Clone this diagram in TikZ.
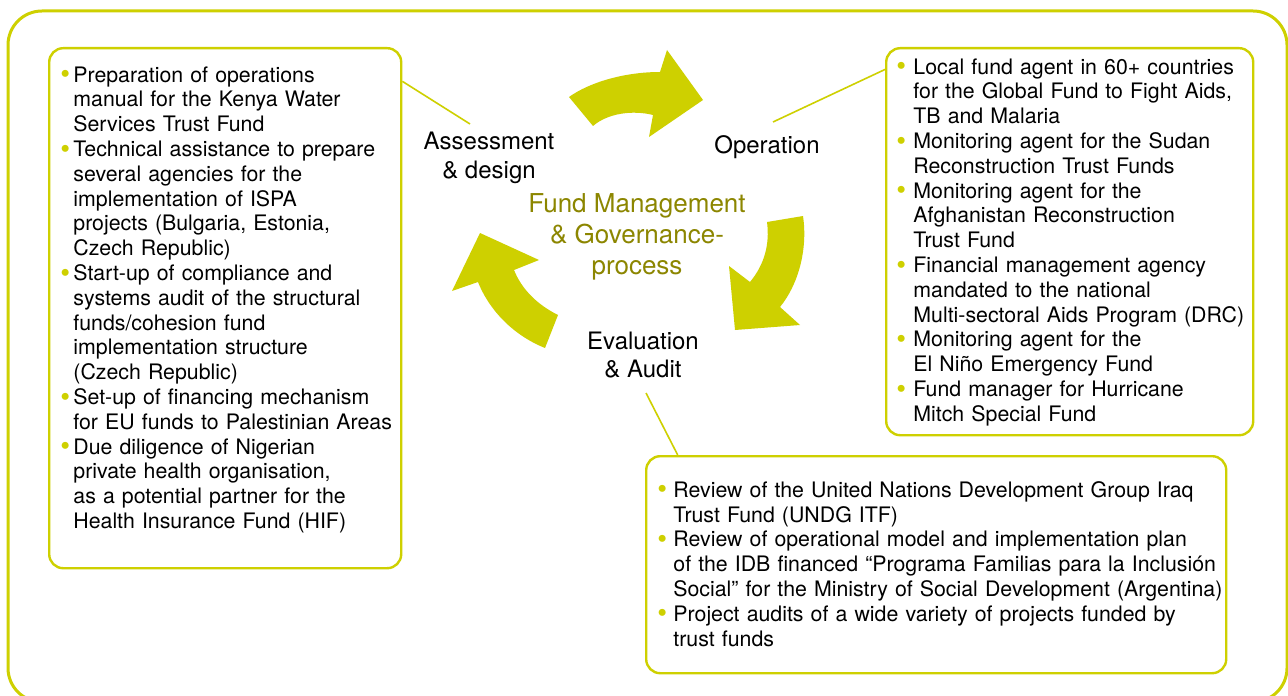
\documentclass[tikz,border=0pt]{standalone}
\usepackage{fontspec}
\setmainfont{TeX Gyre Heros}
\definecolor{fmyellow}{RGB}{206,208,0}
\definecolor{fmolive}{RGB}{140,134,0}
\newlength{\fmind}
\newcommand{\fmbullet}{\textcolor{fmyellow}{\raisebox{-0.8pt}{\fontsize{14}{14}\selectfont\textbullet}}}
\newcommand{\fmitem}[1]{\par\hangindent=\fmind\hangafter=1\noindent\strut
    \makebox[\fmind][l]{\fmbullet}{\let\\\newline #1}\par}
\tikzset{
  fmpx/.style={x=0.5pt,y=-0.5pt},
  fmframe/.style={draw=fmyellow,line width=1.5pt,rounded corners=17pt},
  fmbox/.style={draw=fmyellow,line width=1.2pt,rounded corners=7pt,anchor=north west,inner sep=0pt},
  fmtext/.style={anchor=north west,inner sep=0pt,text width=#1,align=left,font=\fontsize{10.66}{12.4}\selectfont},
  fmlabel/.style={align=center,inner sep=0pt,font=\fontsize{12}{14.2}\selectfont},
  fmlink/.style={draw=fmyellow,line width=0.8pt},
  fmarrow/.style={fill=fmyellow},
}

\begin{document}
\begin{tikzpicture}[fmpx]
    \fill[white] (0,0) rectangle (1288,695);
    \useasboundingbox (0,0) rectangle (1288,695);
    \draw[fmframe] (8,11) rectangle (1287,702);% runs off the page right and below
    % the three boxes
    \node[fmbox,minimum width=176pt,minimum height=260pt] (leftbox) at (48,47) {};
    \node[fmbox,minimum width=183.5pt,minimum height=193.5pt] (rightbox) at (885,47) {};
    \node[fmbox,minimum width=290pt,minimum height=108.5pt] (bottombox) at (645,455) {};
    % cycle arrows
    \fill[fmarrow] (569,97) .. controls (590,82) and (625,72) .. (660,72) -- (667,50) -- (703,100)
        -- (649,137) -- (653,115) .. controls (633,110) and (608,113) .. (593,126) -- cycle;
    \fill[fmarrow] (767,222) -- (803,216) .. controls (808,250) and (798,285) .. (780,307) -- (800,325)
        -- (735,330) -- (729,266) -- (750,282) .. controls (764,265) and (770,245) .. (767,222) -- cycle;
    \fill[fmarrow] (558,315) -- (545,348) .. controls (515,336) and (490,312) .. (478,282) -- (452,291)
        -- (480,233) -- (539,260) -- (514,270) .. controls (522,290) and (538,305) .. (558,315) -- cycle;
    % stage labels
    \node[fmlabel] (assess) at (489,158) {Assessment\\\& design};
    \node[fmlabel] (oper) at (767,147) {Operation};
    \node[fmlabel] (evalu) at (643,355) {Evaluation\\\& Audit};
    \node[fmlabel,text=fmolive,font=\fontsize{13}{15.5}\selectfont] (fundmgmt) at (637,237)
        {Fund Management\\\& Governance-\\process};
    \coordinate (assessend) at (470,124);
    \coordinate (operend) at (773,122);
    \coordinate (evalend) at (646,393);
    \draw[fmlink] (leftbox.52) -- (assessend);
    \draw[fmlink] (rightbox.137) -- (operend);
    \draw[fmlink] (bottombox.157) -- (evalend);
    % box contents
    \node[fmtext=190pt] (lefttext) at (60,57) {\setlength{\fmind}{6.5pt}%
        \fmitem{Preparation of operations\\manual for the Kenya Water\\Services Trust Fund}
        \fmitem{Technical assistance to prepare\\several agencies for the\\implementation of ISPA\\projects (Bulgaria, Estonia,\\Czech Republic)}
        \fmitem{Start-up of compliance and\\systems audit of the structural\\funds/cohesion fund\\implementation structure\\(Czech Republic)}
        \fmitem{Set-up of financing mechanism\\for EU funds to Palestinian Areas}
        \fmitem{Due diligence of Nigerian\\private health organisation,\\as a potential partner for the\\Health Insurance Fund (HIF)}};
    \node[fmtext=190pt] (righttext) at (896,49) {\setlength{\fmind}{8.5pt}%
        \fmitem{Local fund agent in 60+ countries\\for the Global Fund to Fight Aids,\\TB and Malaria}
        \fmitem{Monitoring agent for the Sudan\\Reconstruction Trust Funds}
        \fmitem{Monitoring agent for the\\Afghanistan Reconstruction\\Trust Fund}
        \fmitem{Financial management agency\\mandated to the national\\Multi-sectoral Aids Program (DRC)}
        \fmitem{Monitoring agent for the\\El Niño Emergency Fund}
        \fmitem{Fund manager for Hurricane\\Mitch Special Fund}};
    \node[fmtext=285pt] (bottomtext) at (657,472) {\setlength{\fmind}{8pt}%
        \fmitem{Review of the United Nations Development Group Iraq\\Trust Fund (UNDG ITF)}
        \fmitem{Review of operational model and implementation plan\\of the IDB financed “Programa Familias para la Inclusión\\Social” for the Ministry of Social Development (Argentina)}
        \fmitem{Project audits of a wide variety of projects funded by\\trust funds}};
\end{tikzpicture}
\end{document}
